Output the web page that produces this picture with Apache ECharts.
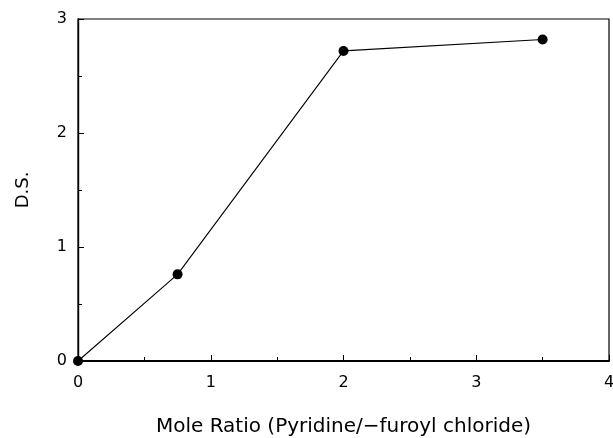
<!DOCTYPE html>
<html>
<head>
<meta charset="utf-8">
<script src="https://cdn.jsdelivr.net/npm/echarts@6/dist/echarts.min.js"></script>
<style>
  html, body { margin: 0; padding: 0; background: #fff; }
  #chart { width: 613px; height: 438px; }
</style>
</head>
<body>
<div id="chart"></div>
<script>
// Degree of substitution versus pyridine / furoyl chloride mole ratio
const moleRatio = [0, 0.75, 2.0, 3.5];
const degreeSub = [0, 0.76, 2.72, 2.82];

const xTicks = [0, 1, 2, 3, 4];
const yTicks = [0, 1, 2, 3];

const points = moleRatio.map((x, i) => [x, degreeSub[i]]);
const font = '"DejaVu Sans", "Liberation Sans", sans-serif';

const chart = echarts.init(document.getElementById('chart'));
chart.setOption({
  animation: false,
  backgroundColor: '#fff',
  grid: {
    left: 78, right: 4, top: 19, bottom: 77,
    outerBoundsMode: 'none', containLabel: false,
    show: true, borderColor: '#000', borderWidth: 1.2, backgroundColor: 'transparent'
  },
  xAxis: {
    type: 'value',
    min: xTicks[0], max: xTicks[xTicks.length - 1], interval: 1,
    name: 'Mole Ratio (Pyridine/\u2212furoyl chloride)',
    nameLocation: 'middle', nameGap: 56,
    nameTextStyle: { fontFamily: font, fontSize: 20, color: '#000' },
    axisLine: { lineStyle: { color: '#000', width: 1.8 } },
    axisTick: { inside: true, length: 6, lineStyle: { color: '#000' } },
    minorTick: { show: true, splitNumber: 2, length: 4, lineStyle: { color: '#000' } },
    splitLine: { show: false },
    axisLabel: { fontFamily: font, fontSize: 16, color: '#000', margin: 14 }
  },
  yAxis: {
    type: 'value',
    min: yTicks[0], max: yTicks[yTicks.length - 1], interval: 1,
    name: 'D.S.',
    nameLocation: 'middle', nameGap: 46, nameRotate: 90,
    nameTextStyle: { fontFamily: font, fontSize: 18, color: '#000' },
    axisLine: { lineStyle: { color: '#000', width: 1.4 } },
    axisTick: { inside: true, length: 6, lineStyle: { color: '#000' } },
    minorTick: { show: true, splitNumber: 2, length: 4, lineStyle: { color: '#000' } },
    splitLine: { show: false },
    axisLabel: { fontFamily: font, fontSize: 16, color: '#000', margin: 11 }
  },
  series: [{
    type: 'line',
    data: points,
    symbol: 'circle',
    symbolSize: 10,
    itemStyle: { color: '#000' },
    lineStyle: { color: '#000', width: 1.1 },
    clip: false
  }]
});
</script>
</body>
</html>
